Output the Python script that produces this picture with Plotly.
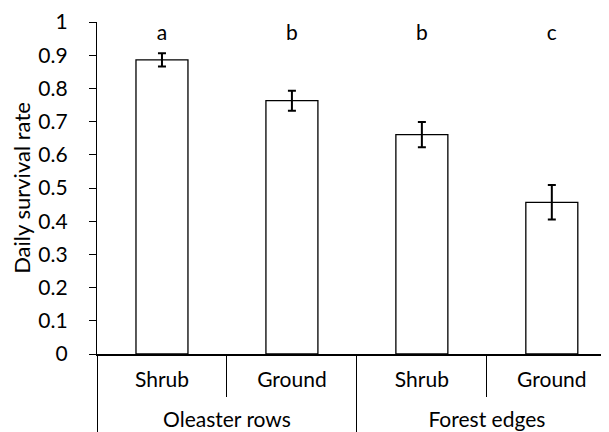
import plotly.graph_objects as go

sites = ["Oleaster rows", "Oleaster rows", "Forest edges", "Forest edges"]
positions = ["Shrub", "Ground", "Shrub", "Ground"]
survival = [0.886, 0.763, 0.661, 0.457]
errors = [0.020, 0.030, 0.038, 0.052]
letters = ["a", "b", "b", "c"]
letter_y = [0.962, 0.962, 0.962, 0.962]
y_ticks = [0, 0.1, 0.2, 0.3, 0.4, 0.5, 0.6, 0.7, 0.8, 0.9, 1]

FONT = "Lato"

idx = list(range(len(survival)))
# group structure derived from the site list
groups = []
for i, s in enumerate(sites):
    if not groups or groups[-1][0] != s:
        groups.append([s, i, i])
    else:
        groups[-1][2] = i
group_names = [g[0] for g in groups]
group_centers = [(g[1] + g[2]) / 2 for g in groups]
group_bounds = [g[1] - 0.5 for g in groups] + [groups[-1][2] + 0.5]
inner_bounds = [i + 0.5 for i in idx[:-1] if (i + 0.5) not in group_bounds]

fig = go.Figure()
fig.add_trace(go.Bar(
    x=idx, y=survival,
    width=0.4,
    marker=dict(color="white", line=dict(color="black", width=1.3)),
    error_y=dict(type="data", array=errors, color="black", thickness=2, width=4),
    showlegend=False,
))
fig.add_trace(go.Scatter(
    x=idx, y=letter_y, mode="text", text=letters,
    textfont=dict(family=FONT, size=21, color="black"),
    cliponaxis=False, xaxis="x2",
    showlegend=False,
))
XR = [-0.5, 3.44]
fig.update_layout(
    width=601, height=424,
    margin=dict(l=89, r=0, t=14, b=78),
    paper_bgcolor="white", plot_bgcolor="white",
    font=dict(family=FONT, size=21, color="black"),
    xaxis=dict(
        range=XR, automargin=False,
        tickmode="array", tickvals=idx, ticktext=positions,
        ticks="", ticklabelstandoff=6,
        showline=True, linecolor="black", linewidth=1.5,
        minor=dict(tickmode="array", tickvals=inner_bounds, ticks="outside",
                   ticklen=41, tickwidth=1.3, tickcolor="black"),
        tickfont=dict(family=FONT, size=21, color="black"),
        showgrid=False, zeroline=False,
    ),
    xaxis2=dict(
        range=XR, automargin=False, overlaying="x", anchor="y", side="bottom",
        tickmode="array", tickvals=group_centers, ticktext=group_names,
        ticks="", ticklabelstandoff=51,
        showline=False,
        minor=dict(tickmode="array", tickvals=group_bounds, ticks="outside",
                   ticklen=80, tickwidth=1.3, tickcolor="black"),
        tickfont=dict(family=FONT, size=21, color="black"),
        ticklabeloverflow="allow",
        showgrid=False, zeroline=False,
    ),
    yaxis=dict(
        range=[0, 1], tickvals=y_ticks, ticktext=[f"{v:g}" for v in y_ticks],
        automargin=False,
        showline=True, linecolor="black", linewidth=1.3,
        ticks="outside", ticklen=7, tickcolor="black", tickwidth=1.3,
        ticklabelstandoff=17, ticklabeloverflow="allow",
        tickfont=dict(family=FONT, size=21, color="black"),
        showgrid=False, zeroline=False,
        title=dict(text="Daily survival rate", font=dict(family=FONT, size=22, color="black"), standoff=10),
    ),
)
fig.write_html("out.html")
